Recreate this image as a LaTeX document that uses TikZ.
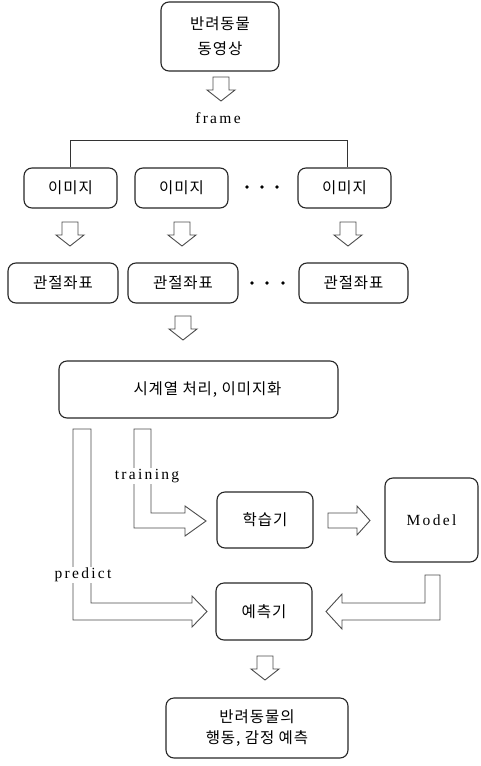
\documentclass[tikz,border=0pt]{standalone}
\usepackage{fontspec}
\newfontfamily\kr[LetterSpace=6]{Noto Sans CJK KR}
\newfontfamily\lat[LetterSpace=15]{Liberation Serif}
\begin{document}
\begin{tikzpicture}[x=1pt,y=-1pt,
  box/.style={draw=black!85,line width=1.1pt,rounded corners=8pt,align=center,font=\kr\fontsize{15.5}{22}\selectfont,inner sep=0pt},
  arr/.style={draw=black!70,line width=0.9pt,fill=white,line join=miter},
  lbl/.style={font=\lat\fontsize{15.5}{18}\selectfont,fill=white,inner sep=1pt},
  dot/.style={circle,fill=black,inner sep=0pt,minimum size=3.6pt},
  darrow/.pic={\draw[arr] (-8,0) -- (-8,13) -- (-14,13) -- (0,24) -- (14,13) -- (8,13) -- (8,0) -- cycle;}]
\useasboundingbox (0,0) rectangle (481,766);
% boxes
\node[box,minimum width=118pt,minimum height=69pt,font=\kr\fontsize{15.5}{25}\selectfont] (top) at (220,36.5) {반려동물\\동영상};
\node[box,minimum width=93pt,minimum height=40pt] (i1) at (70.5,188) {이미지};
\node[box,minimum width=93pt,minimum height=40pt] (i2) at (181.5,188) {이미지};
\node[box,minimum width=93pt,minimum height=40pt] (i3) at (344.5,188) {이미지};
\node[box,minimum width=110pt,minimum height=40pt] (j1) at (63,283) {관절좌표};
\node[box,minimum width=110pt,minimum height=40pt] (j2) at (183,283) {관절좌표};
\node[box,minimum width=109pt,minimum height=40pt] (j3) at (353.5,283) {관절좌표};
\node[box,minimum width=279pt,minimum height=57pt] (seq) at (198.5,389.5) {\hspace*{18pt}시계열 처리, 이미지화};
\node[box,minimum width=96pt,minimum height=56pt] (learn) at (265,520) {학습기};
\node[box,minimum width=93pt,minimum height=84pt,font=\lat\fontsize{15.5}{18}\selectfont] (model) at (431.5,520) {Model};
\node[box,minimum width=96pt,minimum height=57pt] (pred) at (264,611.5) {예측기};
\node[box,minimum width=182pt,minimum height=60pt,font=\kr\fontsize{15.5}{21}\selectfont] (final) at (257,728) {반려동물의\\행동, 감정 예측};
% dots
\node[dot] (d1) at (247,187) {}; \node[dot] (d2) at (262,187) {}; \node[dot] (d3) at (277,187) {};
\node[dot] (e1) at (252,283) {}; \node[dot] (e2) at (267,283) {}; \node[dot] (e3) at (283,283) {};
% frame bracket
\coordinate (bl) at (70,140);
\coordinate (br) at (347,140);
\draw[black!80,line width=0.9pt] (i1.north -| bl) -- (bl) -- (br) -- (i3.north -| br);
\node[lbl,fill=none] (frame) at (218,118) {frame};
% down block arrows
\pic at (221,77) {darrow};
\pic at (70,222) {darrow};
\pic at (182,222) {darrow};
\pic at (348,222) {darrow};
\pic at (183,316) {darrow};
\pic at (265,656) {darrow};
% training arrow
\draw[arr] (134,429) -- (134,528) -- (185,528) -- (185,536) -- (206,521) -- (185,506) -- (185,513) -- (151,513) -- (151,429) -- cycle;
\node[lbl] (tr) at (147,476) {training};
% predict arrow
\draw[arr] (73,429) -- (73,620) -- (192,620) -- (192,627) -- (207,611.5) -- (192,596) -- (192,603) -- (91,603) -- (91,429) -- cycle;
\node[lbl] (pr) at (83,575) {predict};
% learn -> model
\draw[arr] (328,513) -- (357,513) -- (357,506) -- (370,520.5) -- (357,535) -- (357,528) -- (328,528) -- cycle;
% model -> pred
\draw[arr] (440,575) -- (440,620) -- (342,620) -- (342,629) -- (326,611.5) -- (342,594) -- (342,603) -- (425,603) -- (425,575) -- cycle;
\end{tikzpicture}
\end{document}
